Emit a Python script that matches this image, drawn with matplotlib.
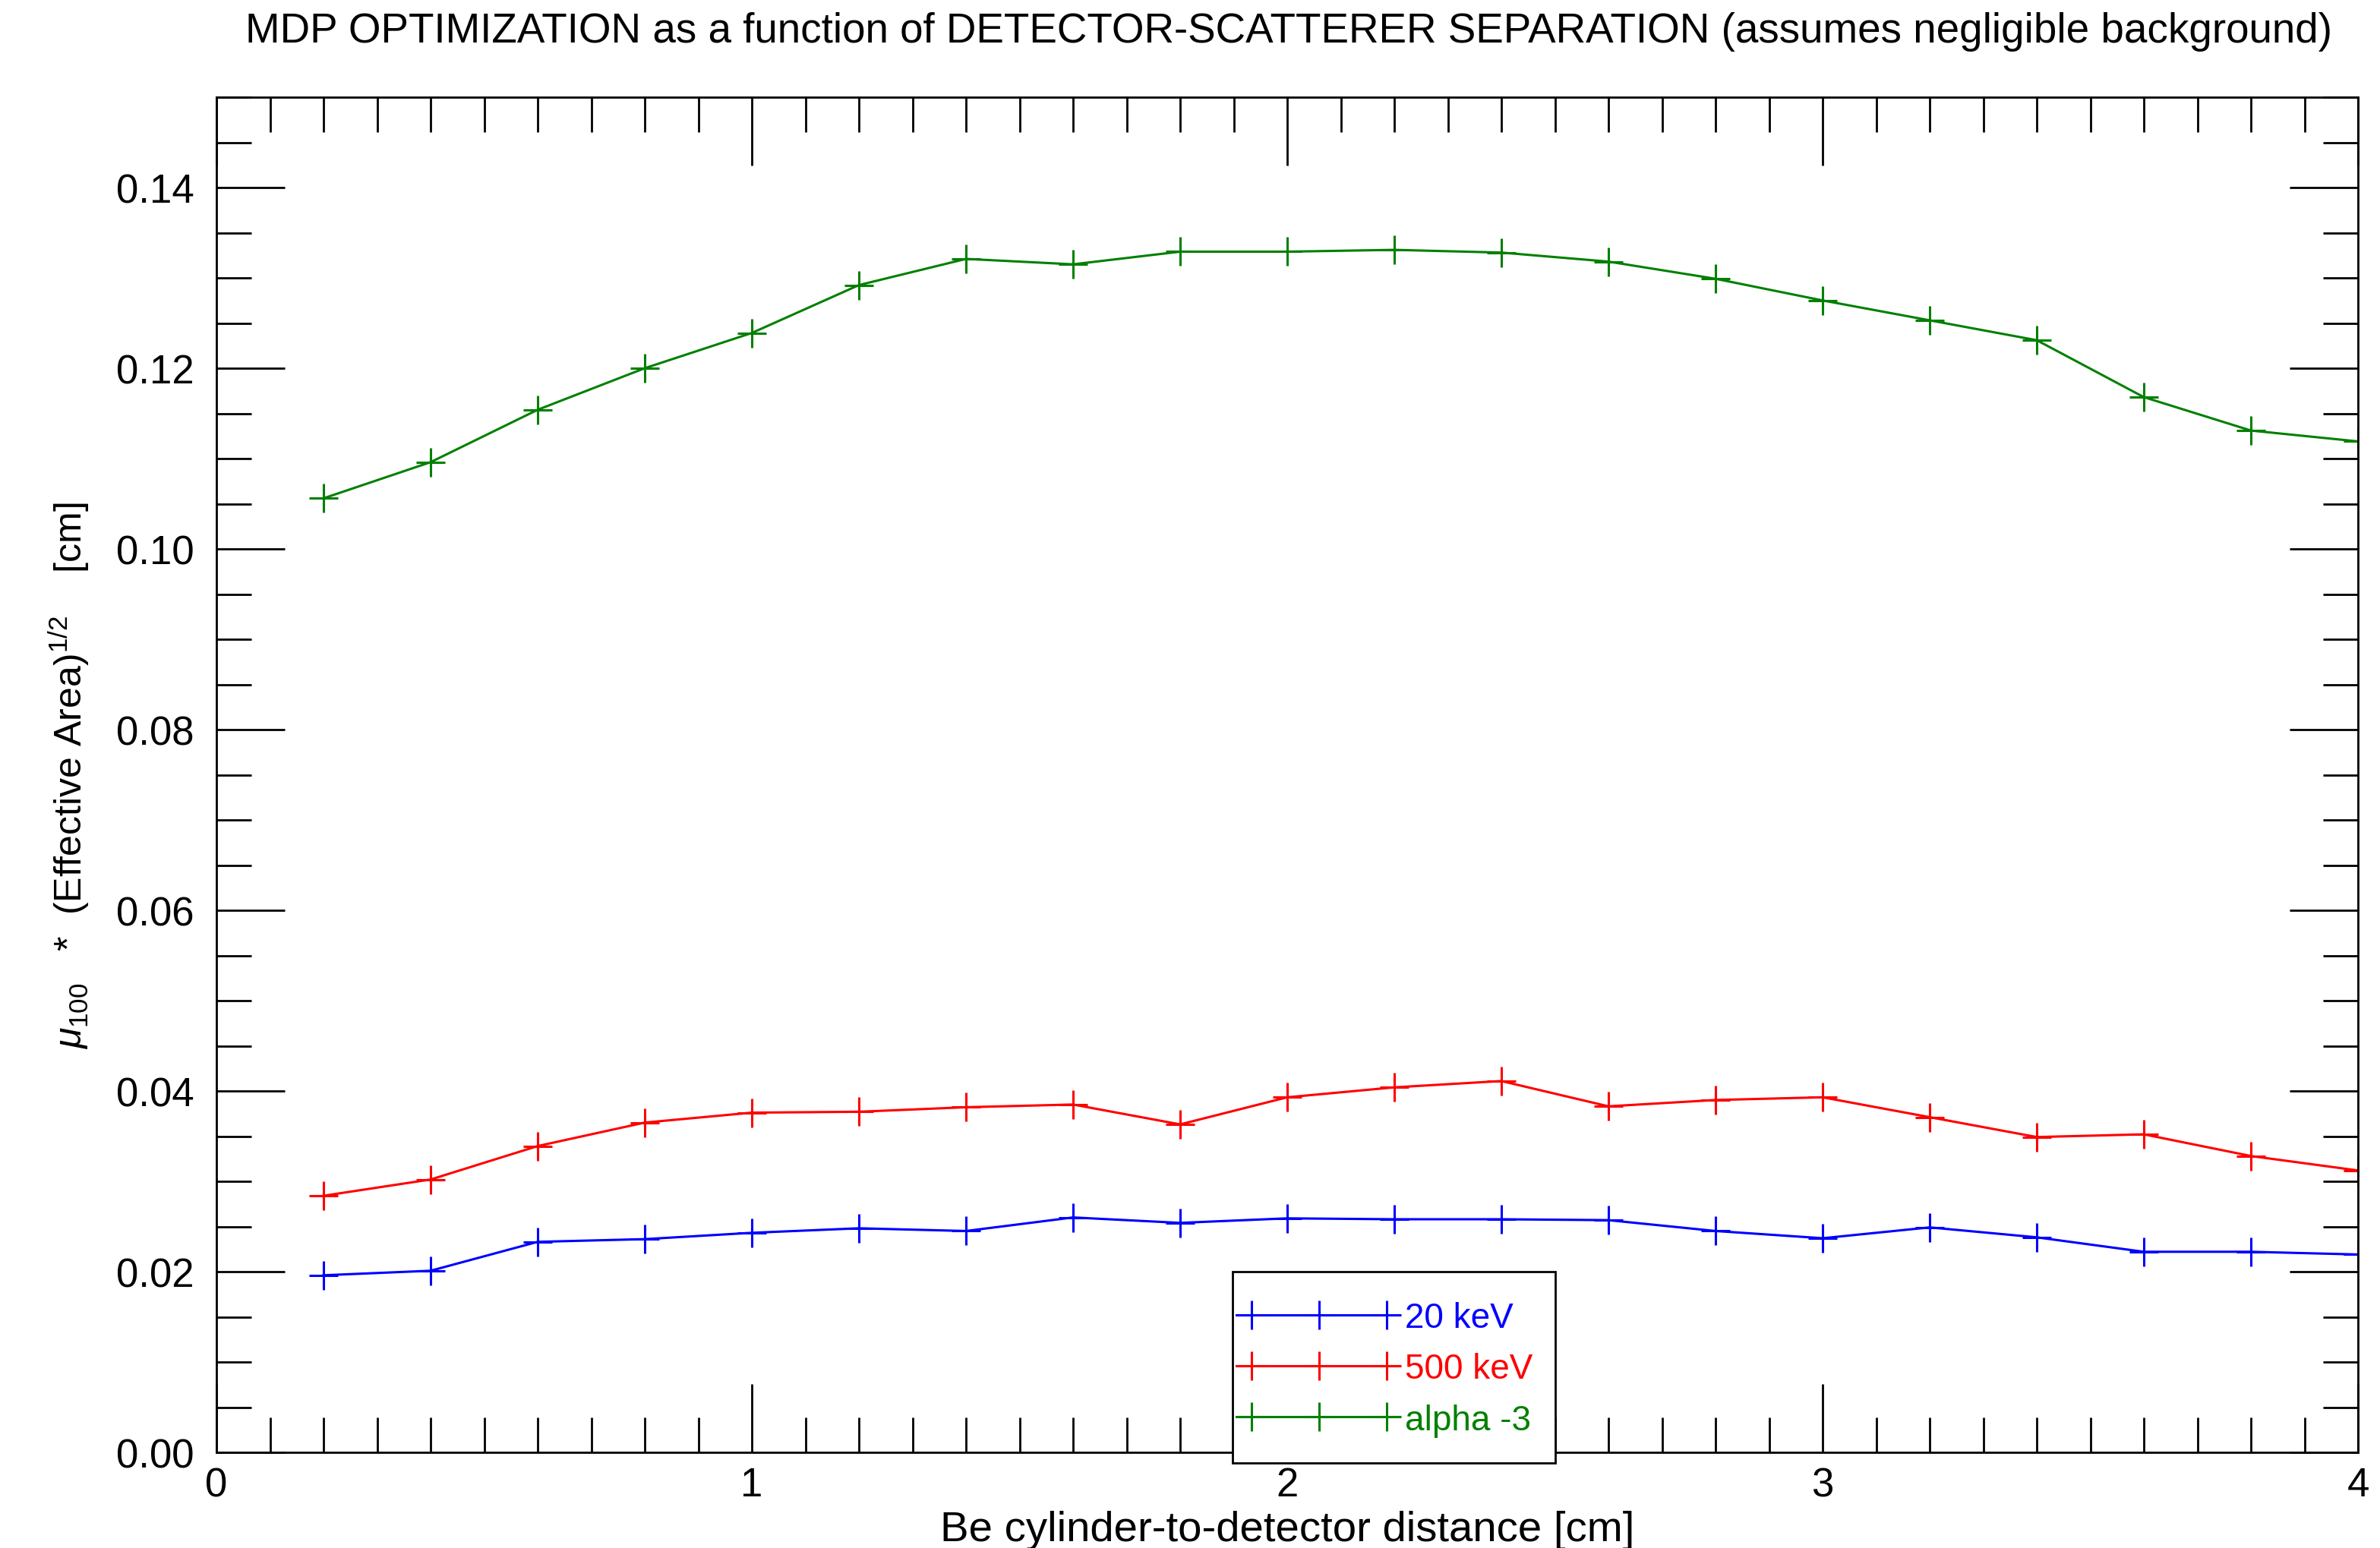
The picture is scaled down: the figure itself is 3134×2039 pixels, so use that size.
import numpy as np
import matplotlib
matplotlib.use("Agg")
import matplotlib.pyplot as plt
from matplotlib.ticker import MultipleLocator, FormatStrFormatter
from matplotlib.lines import Line2D
from matplotlib.patches import Rectangle

# Be cylinder-to-detector distance [cm]
distance = [0.2, 0.4, 0.6, 0.8, 1.0, 1.2, 1.4, 1.6, 1.8, 2.0,
            2.2, 2.4, 2.6, 2.8, 3.0, 3.2, 3.4, 3.6, 3.8, 4.0]

# mu_100 * sqrt(effective area) [cm]
kev20 = [0.0196, 0.0201, 0.0233, 0.0236, 0.0243, 0.0248, 0.0245, 0.0260, 0.0254, 0.0259,
         0.0258, 0.0258, 0.0257, 0.0245, 0.0237, 0.0249, 0.0238, 0.0222, 0.0222, 0.0219]
kev500 = [0.0284, 0.0302, 0.0339, 0.0365, 0.0376, 0.0377, 0.0382, 0.0385, 0.0363, 0.0393,
          0.0404, 0.0411, 0.0383, 0.0390, 0.0393, 0.0371, 0.0349, 0.0352, 0.0328, 0.0312]
alpha3 = [0.1056, 0.1096, 0.1154, 0.1200, 0.1239, 0.1292, 0.1321, 0.1315, 0.1329, 0.1329,
          0.1331, 0.1328, 0.1318, 0.1299, 0.1275, 0.1253, 0.1231, 0.1168, 0.1131, 0.1119]

series = [("20 keV", kev20, "#0000ff"),
          ("500 keV", kev500, "#ff0000"),
          ("alpha -3", alpha3, "#008000")]

title = ("MDP OPTIMIZATION as a function of DETECTOR-SCATTERER SEPARATION "
         "(assumes negligible background)")
xlabel = "Be cylinder-to-detector distance [cm]"
ylabel = r"$\mu_{100}$   *  (Effective Area)$^{1/2}$    [cm]"

plt.rcParams["font.family"] = ["Liberation Sans", "DejaVu Sans"]
plt.rcParams["mathtext.fontset"] = "custom"
plt.rcParams["mathtext.rm"] = "Liberation Sans"
plt.rcParams["mathtext.it"] = "Liberation Sans:italic"
plt.rcParams["mathtext.bf"] = "Liberation Sans:bold"

W, H = 3134, 2040
fig = plt.figure(figsize=(W / 100, H / 100), dpi=100)
L, R, T, B = 285, 3105, 129, 1914
ax = fig.add_axes([L / W, 1 - B / H, (R - L) / W, (B - T) / H])

LW, MS, MEW = 2.2, 27.5, 2.2
for label, vals, col in series:
    ax.plot(distance, vals, color=col, lw=LW, marker="+", ms=MS, mew=MEW,
            label=label)

ax.set_xlim(0, 4)
ax.set_ylim(0, 0.15)
ax.xaxis.set_major_locator(MultipleLocator(1))
ax.xaxis.set_minor_locator(MultipleLocator(0.1))
ax.yaxis.set_major_locator(MultipleLocator(0.02))
ax.yaxis.set_minor_locator(MultipleLocator(0.005))
ax.xaxis.set_major_formatter(FormatStrFormatter("%d"))
ax.yaxis.set_major_formatter(FormatStrFormatter("%.2f"))

ax.tick_params(which="both", direction="in", top=True, right=True,
               width=2.0, color="black")
ax.tick_params(which="major", length=65)
ax.tick_params(which="minor", length=33)
ax.tick_params(axis="x", which="major", labelsize=38, pad=13)
ax.tick_params(axis="y", which="major", labelsize=38, pad=21)
for s in ax.spines.values():
    s.set_linewidth(2.0)

ax.set_xlabel(xlabel, fontsize=40.6)
ax.xaxis.set_label_coords(0.5, (B - 2030) / (B - T))
ax.xaxis.label.set_verticalalignment("baseline")

ax.set_ylabel(ylabel, fontsize=36)
ax.yaxis.set_label_coords((108 - L) / (R - L), 0.5)
ax.yaxis.label.set_verticalalignment("baseline")

fig.text(1697 / W, 1 - 56 / H, title, fontsize=39.4, ha="center", va="baseline")


# Legend box in the IDL style: framed, three symbols per sample line,
# labels drawn in the series colour. Layout given in figure pixels.
def fx(px):
    return px / W


def fy(py):
    return 1 - py / H


box_l, box_r, box_t, box_b = 1623, 2048, 1676, 1928
fig.add_artist(Rectangle((fx(box_l), fy(box_b)), fx(box_r) - fx(box_l),
                         fy(box_t) - fy(box_b), transform=fig.transFigure,
                         facecolor="white", edgecolor="black", lw=2.0,
                         zorder=5))
row_y = [1733, 1800, 1867]
line_x0, line_x1 = 1628, 1843
sym_x = [1648, 1737, 1826]
text_x = 1850
for (label, _, col), yy in zip(series, row_y):
    fig.add_artist(Line2D([fx(line_x0), fx(line_x1)], [fy(yy), fy(yy)],
                          transform=fig.transFigure, color=col, lw=LW,
                          zorder=6))
    fig.add_artist(Line2D([fx(x) for x in sym_x], [fy(yy)] * len(sym_x),
                          transform=fig.transFigure, color=col, ls="none",
                          marker="+", ms=MS, mew=MEW, zorder=6))
    fig.text(fx(text_x), fy(yy + 16.5), label, color=col, fontsize=33,
             ha="left", va="baseline", zorder=7)

fig.savefig("out.png", dpi=100, facecolor="white")
